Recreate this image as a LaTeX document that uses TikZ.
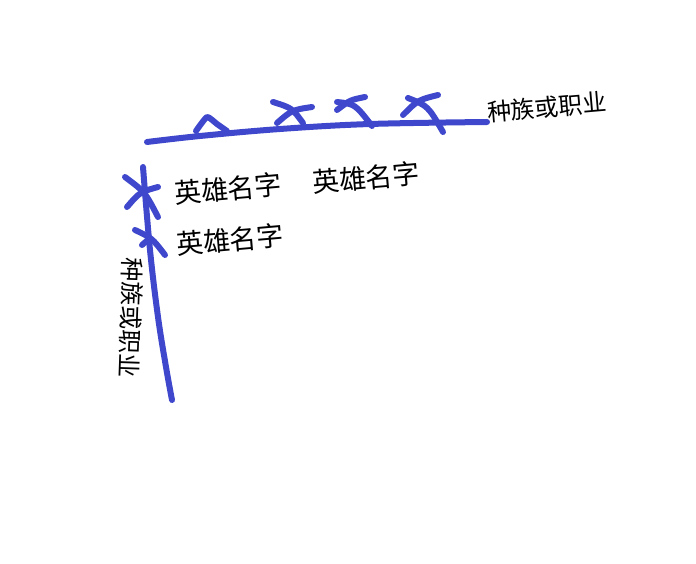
\documentclass[tikz,border=0pt]{standalone}
\usepackage{fontspec}
\newfontfamily\cjk{Noto Sans CJK SC}
\definecolor{pen}{RGB}{63,72,204}
\begin{document}
\begin{tikzpicture}[x=1pt,y=-1pt,
  stroke/.style={draw=pen,line width=6pt,line cap=round,line join=round},
  label/.style={font=\cjk\fontsize{27}{29}\selectfont,inner sep=0pt,text=black}]
\useasboundingbox (0,0) rectangle (696,564);
% horizontal line
\draw[stroke] plot[smooth,tension=0.6] coordinates {(147,142) (200,136) (280,129) (370,124) (487,122)};
% triangle
\draw[stroke] plot[smooth,tension=0.3] coordinates {(196,131) (207,117) (217,124) (227,131)};
% crosses on horizontal line
\draw[stroke] (273,102) .. controls (292,108) .. (303,123);
\draw[stroke] (277,123) .. controls (292,110) .. (312,107);
\draw[stroke] (337,102) .. controls (355,104) .. (372,126);
\draw[stroke] (337,110) .. controls (350,100) .. (365,97);
\draw[stroke] (408,98) .. controls (428,106) .. (443,132);
\draw[stroke] (403,115) .. controls (418,100) .. (438,95);
% vertical line
\draw[stroke] plot[smooth,tension=0.6] coordinates {(143,167) (150,250) (158,317) (166,367) (172,400)};
% crosses on vertical line
\draw[stroke] (125,177) .. controls (145,192) .. (158,217);
\draw[stroke] (127,207) .. controls (140,192) .. (158,187);
\draw[stroke] (135,230) .. controls (152,238) .. (165,255);
\draw[stroke] (142,245) -- (149,239);
% labels
\node[label,rotate=5] (h1) at (228,189) {英雄名字};
\node[label,rotate=5] (h2) at (230,240) {英雄名字};
\node[label,rotate=5] (h3) at (366,178) {英雄名字};
\node[label,rotate=5,font=\cjk\fontsize{24}{26}\selectfont] (r1) at (547,107) {种族或职业};
\node[label,rotate=-92,font=\cjk\fontsize{24}{26}\selectfont] (r2) at (131,318) {种族或职业};
\end{tikzpicture}
\end{document}
